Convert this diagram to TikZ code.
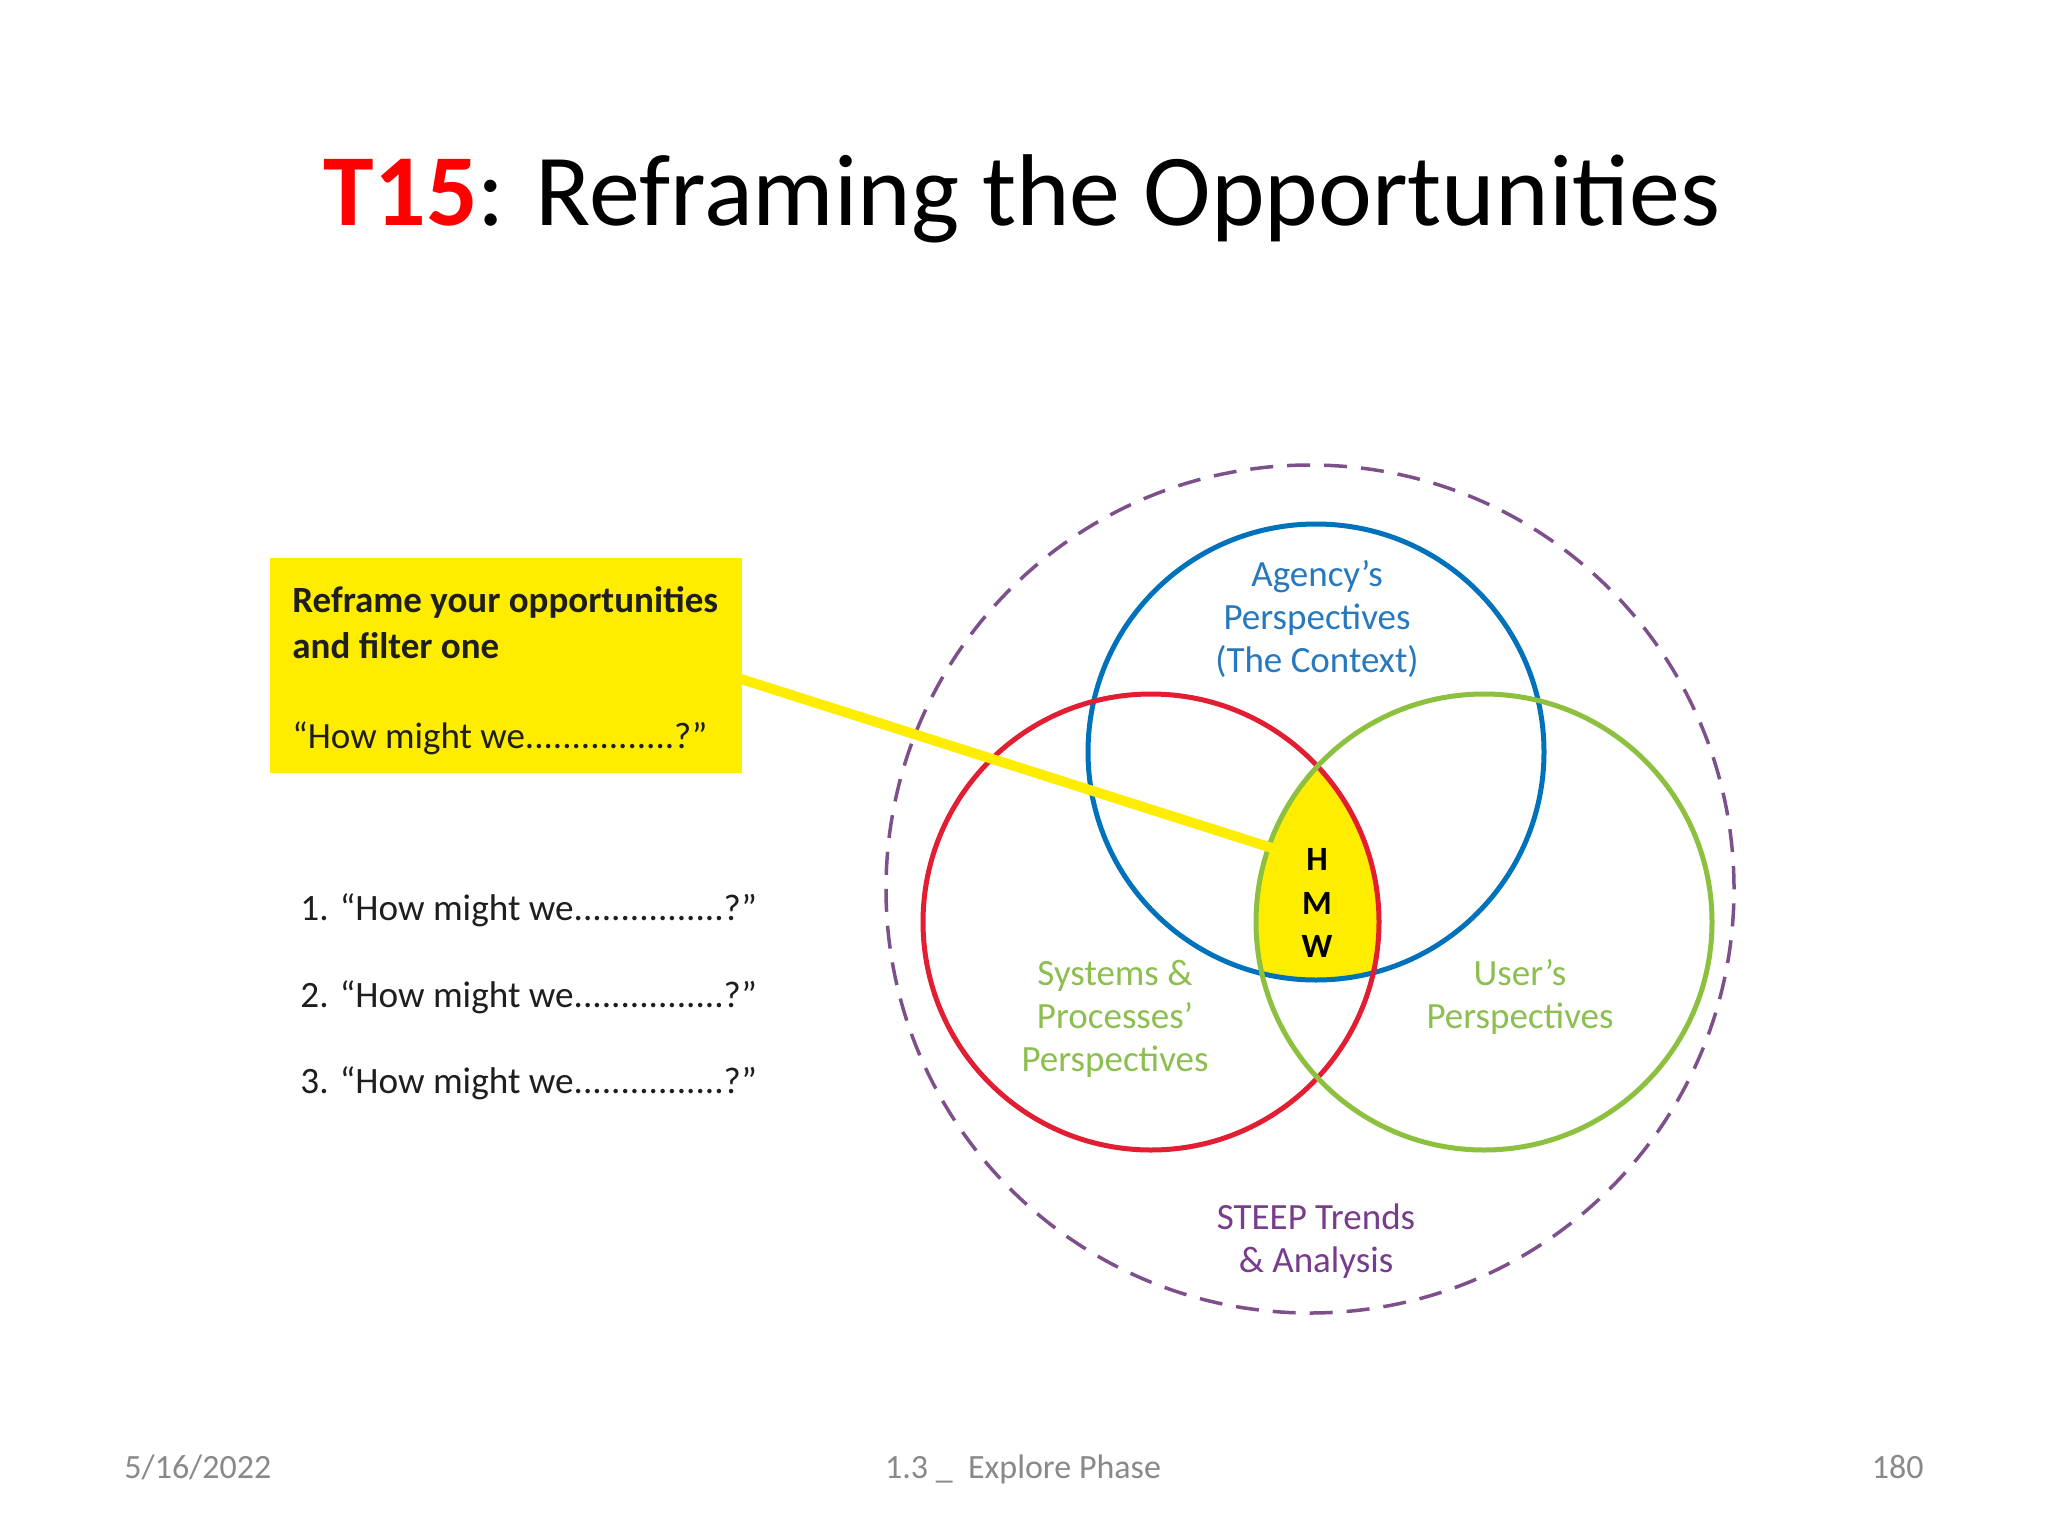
\documentclass[tikz,border=0pt]{standalone}
\usepackage{fontspec}
\setmainfont{Carlito}
\definecolor{titlered}{RGB}{255,0,0}
\definecolor{cblue}{RGB}{0,114,188}
\definecolor{cred}{RGB}{225,30,50}
\definecolor{cgreen}{RGB}{141,192,63}
\definecolor{tgreen}{RGB}{140,190,80}
\definecolor{tblue}{RGB}{40,120,190}
\definecolor{cpurple}{RGB}{125,80,140}
\definecolor{tpurple}{RGB}{120,60,140}
\definecolor{hyellow}{RGB}{255,237,0}
\definecolor{foot}{RGB}{137,137,137}
\definecolor{ink}{RGB}{30,30,30}
\tikzset{
  venn/.style={line width=2.5pt},
  lbl/.style={anchor=base,inner sep=0pt,font=\fontsize{18.5}{22}\selectfont},
  boxtxt/.style={anchor=base west,inner sep=0pt,text=ink,font=\fontsize{18.5}{22}\selectfont},
  listtxt/.style={anchor=base west,inner sep=0pt,text=ink,font=\fontsize{18.6}{22}\selectfont},
  foottxt/.style={inner sep=0pt,text=foot,font=\fontsize{17}{20}\selectfont},
}
\begin{document}
\begin{tikzpicture}[x=0.5pt,y=-0.5pt]
\useasboundingbox (0,0) rectangle (2048,1536);
\fill[white] (0,0) rectangle (2048,1536);

% title
\node[anchor=base,inner sep=0pt,font=\fontsize{51}{60}\selectfont] (title) at (1022,225)
  {\textcolor{titlered}{\textbf{T15}}: Reframing the Opportunities};

% yellow box
\node[fill=hyellow,minimum width=236pt,minimum height=107.5pt,inner sep=0pt,anchor=north west] (box) at (270,558) {};
\node[boxtxt] (b1) at (292,612) {\textbf{Reframe your opportunities}};
\node[boxtxt] (b2) at (292,658) {\textbf{and filter one}};
\node[boxtxt] (b3) at (292,748) {“How might we................?”};

% list
\node[listtxt] (l1) at (300,920) {1. “How might we................?”};
\node[listtxt] (l2) at (300,1007) {2. “How might we................?”};
\node[listtxt] (l3) at (300,1093) {3. “How might we................?”};

% venn
\coordinate (cb) at (1316,752);
\coordinate (cr) at (1151,922);
\coordinate (cg) at (1484,922);
\coordinate (co) at (1310,889);
\begin{scope}
  \clip (cb) circle [radius=114pt];
  \clip (cr) circle [radius=114pt];
  \fill[hyellow] (cg) circle [radius=114pt];
\end{scope}
\draw[cpurple,line width=1.75pt,dash pattern=on 11.5pt off 7pt] (co) circle [radius=212pt];
\draw[venn,cblue] (cb) circle [radius=114pt];
\draw[venn,cred] (cr) circle [radius=114pt];
\draw[venn,cgreen] (cg) circle [radius=114pt];

% labels
\node[lbl,text=tblue] (a1) at (1317,586) {Agency’s};
\node[lbl,text=tblue] (a2) at (1317,629) {Perspectives};
\node[lbl,text=tblue] (a3) at (1317,672) {(The Context)};
\node[lbl,text=tgreen] (s1) at (1115,985) {Systems \&};
\node[lbl,text=tgreen] (s2) at (1115,1028) {Processes’};
\node[lbl,text=tgreen] (s3) at (1115,1071) {Perspectives};
\node[lbl,text=tgreen] (u1) at (1520,985) {User’s};
\node[lbl,text=tgreen] (u2) at (1520,1028) {Perspectives};
\node[lbl,text=tpurple] (p1) at (1316,1229) {STEEP Trends};
\node[lbl,text=tpurple] (p2) at (1316,1272) {\& Analysis};
\node[lbl,text=black,font=\bfseries\fontsize{17}{20}\selectfont] (h) at (1317,870) {H};
\node[lbl,text=black,font=\bfseries\fontsize{17}{20}\selectfont] (m) at (1317,914) {M};
\node[lbl,text=black,font=\bfseries\fontsize{17}{20}\selectfont] (w) at (1317,957) {W};

% connector
\coordinate (boxout) at (741,679);
\coordinate (hmwtip) at (1272,848);
\draw[hyellow,line width=5pt] (boxout) -- (hmwtip);

% footer
\node[foottxt,anchor=base west] (date) at (124,1478) {5/16/2022};
\node[foottxt,anchor=base] (phase) at (1023,1478) {1.3 \_ \ Explore Phase};
\node[foottxt,anchor=base east] (page) at (1924,1478) {180};
\end{tikzpicture}
\end{document}
